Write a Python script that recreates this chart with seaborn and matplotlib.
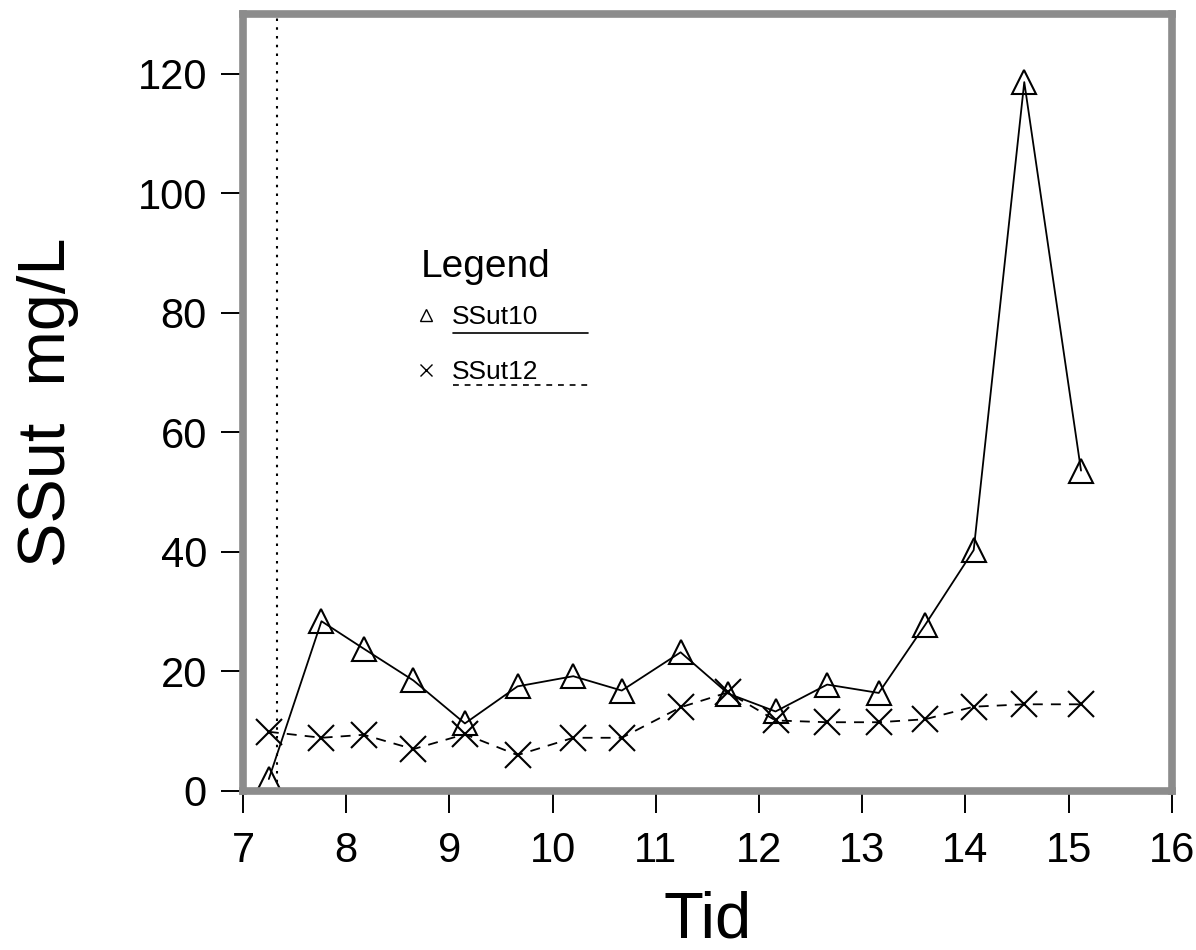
import numpy as np
import pandas as pd
import matplotlib
matplotlib.use("Agg")
import matplotlib.pyplot as plt
from matplotlib.lines import Line2D
import seaborn as sns

# ---- data ----
tid = [7.25, 7.76, 8.17, 8.65, 9.15, 9.66, 10.20, 10.67, 11.24, 11.70,
       12.16, 12.66, 13.16, 13.61, 14.08, 14.57, 15.12]
ssut10 = [2.0, 28.4, 23.8, 18.5, 11.3, 17.5, 19.2, 16.8, 23.2, 16.3,
          13.3, 17.8, 16.4, 27.8, 40.3, 118.6, 53.6]
ssut12 = [9.9, 8.9, 9.4, 7.0, 9.5, 6.0, 8.9, 8.9, 14.0, 16.5,
          11.8, 11.5, 11.5, 12.0, 14.1, 14.5, 14.5]
series_names = ["SSut10", "SSut12"]
x_ticks = [7, 8, 9, 10, 11, 12, 13, 14, 15, 16]
y_ticks = [0, 20, 40, 60, 80, 100, 120]
vline_x = 7.325

df = pd.DataFrame({"Tid": tid * 2,
                   "val": ssut10 + ssut12,
                   "serie": [series_names[0]] * len(tid) + [series_names[1]] * len(tid)})

sns.set_theme(style="ticks")
plt.rcParams["font.family"] = ["Liberation Sans", "DejaVu Sans"]
plt.rcParams["text.color"] = "black"
plt.rcParams["axes.labelcolor"] = "black"

fig = plt.figure(figsize=(11.96, 9.5), dpi=100)
ax = fig.add_axes([0.2032, 0.1674, 0.7766, 0.8179])

sns.lineplot(data=df[df.serie == "SSut10"], x="Tid", y="val", ax=ax, color="black",
             lw=1.3, marker="^", markersize=17, markerfacecolor="none",
             markeredgecolor="black", markeredgewidth=1.5, legend=False)
sns.lineplot(data=df[df.serie == "SSut12"], x="Tid", y="val", ax=ax, color="black",
             lw=1.3, marker="x", markersize=19, markeredgewidth=1.5,
             markeredgecolor="black", legend=False)
ax.lines[-1].set_dashes([5.5, 4.5])

ax.axvline(vline_x, color="black", lw=1.5, ls=(0, (1.2, 3)))

ax.set_xlim(7, 16)
ax.set_ylim(0, 130)
ax.set_xticks(x_ticks)
ax.set_yticks(y_ticks)
ax.tick_params(axis="both", direction="out", length=16, width=1.4,
               colors="black", labelsize=30, bottom=True, left=True)
ax.tick_params(axis="y", pad=10)
ax.tick_params(axis="x", pad=13)
for sp in ax.spines.values():
    sp.set_visible(True)
    sp.set_color("#8c8c8c")
    sp.set_linewidth(5.5)

ax.set_xlabel("Tid", fontsize=47, labelpad=14)
ax.set_ylabel("SSut  mg/L", fontsize=48, labelpad=42)

# legend
ax.text(0.1916, 0.662, "Legend", transform=ax.transAxes, fontsize=28,
        ha="left", va="baseline")
handles = [Line2D([], [], ls="none", marker="^", markersize=9, markerfacecolor="none",
                  markeredgecolor="black", markeredgewidth=1),
           Line2D([], [], ls="none", marker="x", markersize=9, color="black",
                  markeredgewidth=1)]
leg = ax.legend(handles, series_names, loc="upper left",
                bbox_to_anchor=(0.186, 0.625), frameon=False, fontsize=19,
                handlelength=0.8, handletextpad=0.57,
                labelspacing=1.17, borderaxespad=0, borderpad=0)
# underlines beneath the legend entries
ax.plot([0.226, 0.371], [0.589, 0.589], transform=ax.transAxes, color="black", lw=1.2)
ax.plot([0.226, 0.371], [0.523, 0.523], transform=ax.transAxes, color="black", lw=1.2,
        dashes=[3.5, 3.5])

fig.savefig("out.png", dpi=100)
